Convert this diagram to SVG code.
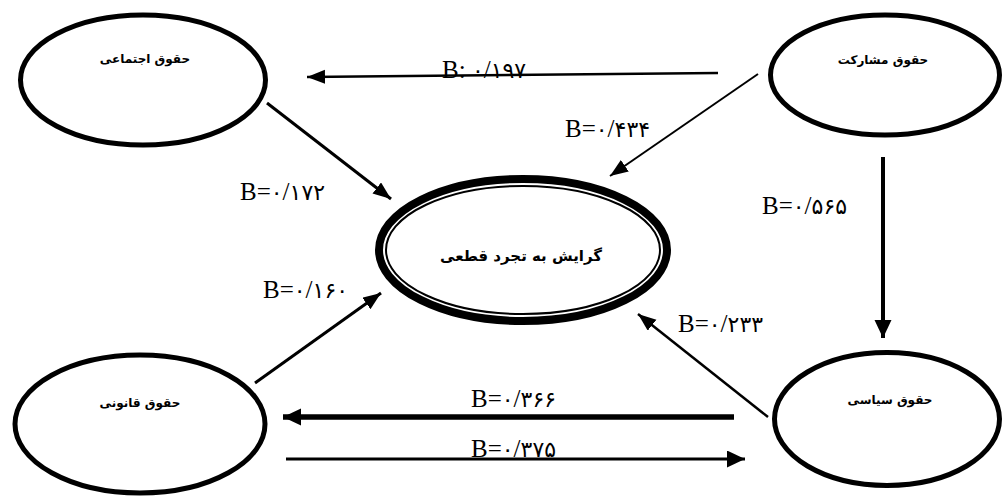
<svg xmlns="http://www.w3.org/2000/svg" width="1003" height="497" viewBox="0 0 1003 497">
<style>
.node{fill:#fff;stroke:#000;stroke-width:5}
.fa{font-family:"DejaVu Sans","Noto Sans",sans-serif;font-weight:bold;font-size:12px;text-anchor:middle;direction:rtl;fill:#000}
.lbl{font-family:"Liberation Serif","DejaVu Sans",serif;font-size:25px;fill:#000}
.dg{font-family:"DejaVu Sans",sans-serif;font-size:22px}
.c{fill:none;stroke:#000}
</style>
<defs>
<marker id="ah" markerUnits="userSpaceOnUse" markerWidth="20" markerHeight="16" refX="18" refY="7" orient="auto">
<path d="M0,0 L18,7 L0,14 z" fill="#000"/>
</marker>
<marker id="ahb" markerUnits="userSpaceOnUse" markerWidth="20" markerHeight="20" refX="18" refY="8.5" orient="auto">
<path d="M0,0 L18,8.5 L0,17 z" fill="#000"/>
</marker>
</defs>
<rect width="1003" height="497" fill="#fff"/>
<g id="connectors">
<path class="c" stroke-width="2.5" d="M718,73 L307,77" marker-end="url(#ah)"/>
<path class="c" stroke-width="3" d="M267,103 L391,199" marker-end="url(#ah)"/>
<path class="c" stroke-width="2" d="M758,74 L610,176" marker-end="url(#ah)"/>
<path class="c" stroke-width="4" d="M883,157 L883,338" marker-end="url(#ahb)"/>
<path class="c" stroke-width="2.5" d="M768,417 L638,314" marker-end="url(#ah)"/>
<path class="c" stroke-width="3" d="M255,383 L381,293" marker-end="url(#ah)"/>
<path class="c" stroke-width="5.5" d="M734,417 L283,417" marker-end="url(#ahb)"/>
<path class="c" stroke-width="3" d="M286,459 L745,459" marker-end="url(#ahb)"/>
</g>
<g id="labels">
<text class="lbl" x="442" y="78">B: <tspan class="dg">۰</tspan>/<tspan class="dg">۱۹۷</tspan></text>
<text class="lbl" x="565" y="137">B=<tspan class="dg">۰</tspan>/<tspan class="dg">۴۳۴</tspan></text>
<text class="lbl" x="240" y="200">B=<tspan class="dg">۰</tspan>/<tspan class="dg">۱۷۲</tspan></text>
<text class="lbl" x="762" y="214">B=<tspan class="dg">۰</tspan>/<tspan class="dg">۵۶۵</tspan></text>
<text class="lbl" x="263" y="298">B=<tspan class="dg">۰</tspan>/<tspan class="dg">۱۶۰</tspan></text>
<text class="lbl" x="678" y="332">B=<tspan class="dg">۰</tspan>/<tspan class="dg">۲۳۳</tspan></text>
<text class="lbl" x="471" y="407">B=<tspan class="dg">۰</tspan>/<tspan class="dg">۳۶۶</tspan></text>
<text class="lbl" x="471" y="457">B=<tspan class="dg">۰</tspan>/<tspan class="dg">۳۷۵</tspan></text>
</g>
<g id="n-ejtemaei">
<ellipse class="node" cx="143" cy="80" rx="122.5" ry="65"/>
<text class="fa" x="145" y="63">حقوق اجتماعی</text>
</g>
<g id="n-mosharekat">
<ellipse class="node" cx="885" cy="75" rx="114.5" ry="60"/>
<text class="fa" x="883" y="64">حقوق مشارکت</text>
</g>
<g id="n-center">
<ellipse cx="523" cy="250" rx="144" ry="71" fill="#fff" stroke="#000" stroke-width="8"/>
<ellipse cx="523" cy="250" rx="137" ry="64" fill="none" stroke="#000" stroke-width="2"/>
<text class="fa" x="521" y="261" style="font-size:15px">گرایش به تجرد قطعی</text>
</g>
<g id="n-qanuni">
<ellipse class="node" cx="140" cy="424" rx="125" ry="69"/>
<text class="fa" x="140" y="407">حقوق قانونی</text>
</g>
<g id="n-siasi">
<ellipse class="node" cx="887" cy="419" rx="112.5" ry="66.5"/>
<text class="fa" x="890" y="404">حقوق سیاسی</text>
</g>
</svg>
